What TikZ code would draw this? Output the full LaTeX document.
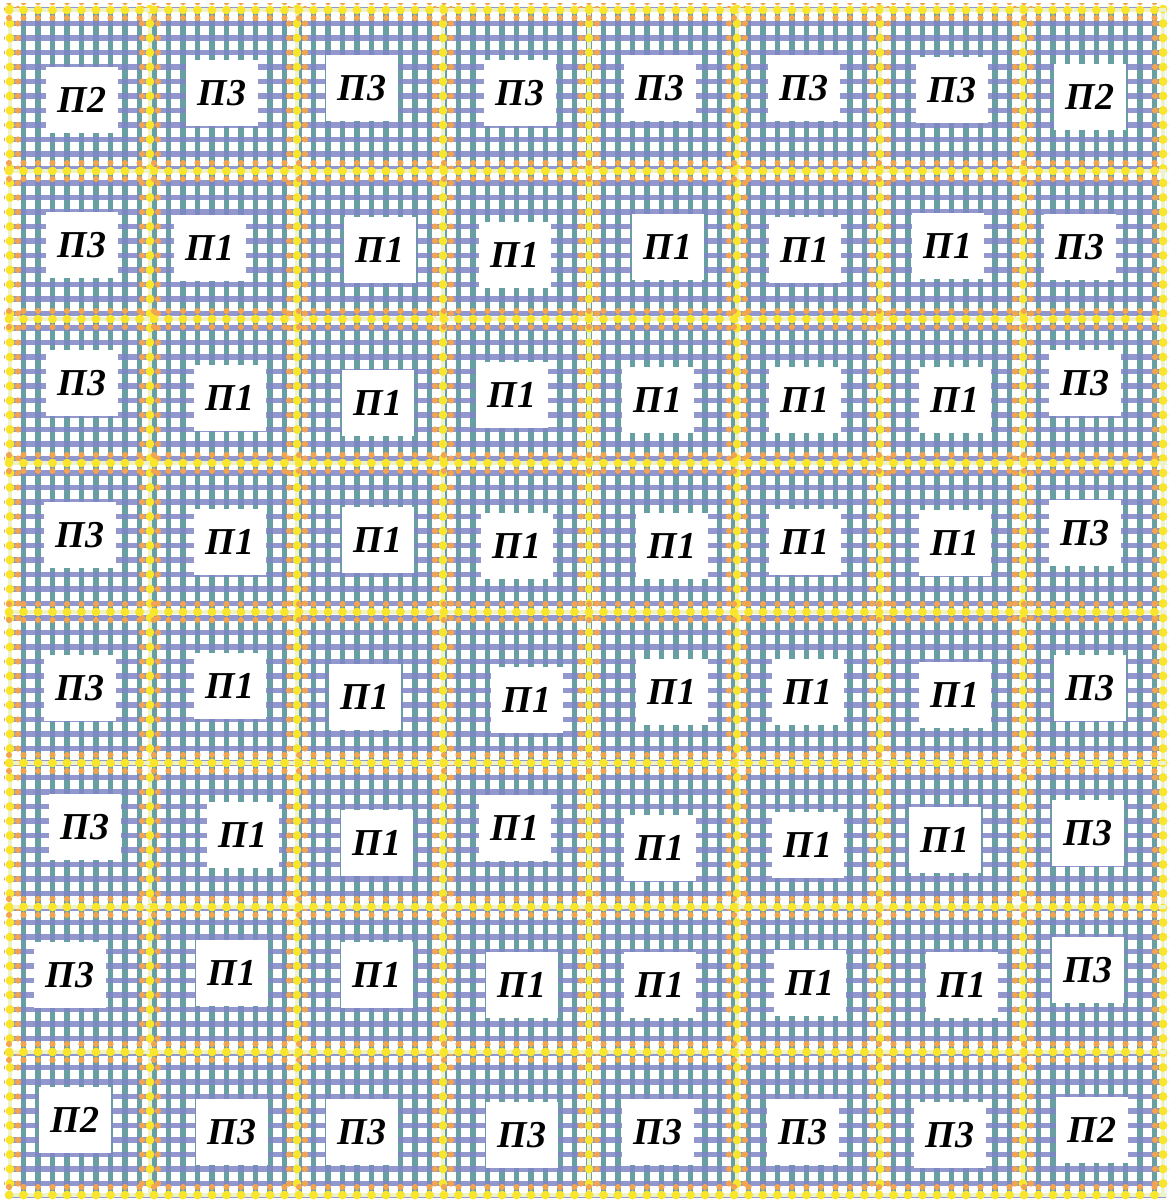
\documentclass[tikz,border=0pt]{standalone}
\usepackage{fontspec}
\setmainfont{Liberation Serif}
\definecolor{meshteal}{HTML}{679FA2}
\definecolor{meshblue}{HTML}{8086C6}
\definecolor{bandyel}{HTML}{F8E52C}
\definecolor{bandorg}{HTML}{F2A450}
\definecolor{bandpale}{HTML}{EEF2C8}
\tikzset{
  meshv/.style={draw=meshteal,line width=5.3pt},
  meshh/.style={draw=meshblue,line width=5.3pt,opacity=0.85},
  bandcore/.style={draw=bandpale,line width=4pt},
  lab/.style={fill=white,minimum width=72pt,minimum height=66pt,inner sep=0pt,
    font=\fontsize{38}{38}\selectfont\bfseries\itshape}
}
\begin{document}
\begin{tikzpicture}[x=1pt,y=-1pt]
\useasboundingbox (0,0) rectangle (1170,1201);
\fill[white] (0,0) rectangle (1170,1201);
% mesh
\begin{scope}
\clip (8,8) rectangle (1166,1197);
\foreach \i in {0,...,80} { \draw[meshv] ({9+\i*14.5},8) -- ({9+\i*14.5},1197); }
\foreach \i in {0,...,82} { \draw[meshh] (8,{9+\i*14.5}) -- (1166,{9+\i*14.5}); }
\end{scope}
% bands
\begin{scope}
\clip (4,4) rectangle (1168,1199);
\foreach \bx in {10,150,297,443,589,737,880,1023,1163} {
  \draw[bandcore] (\bx,8) -- (\bx,1197);
  \foreach \k in {0,...,81} {
    \fill[bandorg] ({\bx-8},{9+\k*14.5}) circle (3.1);
    \fill[bandorg] ({\bx+8},{9+\k*14.5}) circle (3.1);
    \fill[bandyel] (\bx,{9+\k*14.5}) circle (4.4);
  }
}
\foreach \by in {10,171,319,463,612,763,907,1052,1195} {
  \draw[bandcore] (8,\by) -- (1166,\by);
  \foreach \k in {0,...,79} {
    \fill[bandorg] ({9+\k*14.5},{\by-8}) circle (3.1);
    \fill[bandorg] ({9+\k*14.5},{\by+8}) circle (3.1);
    \fill[bandyel] ({9+\k*14.5},\by) circle (4.4);
  }
}
\end{scope}
% labels
\foreach \x/\y/\t [count=\c] in {82/100/П2,222/93/П3,362/88/П3,520/93/П3,660/88/П3,804/88/П3,952/90/П3,1090/97/П2}
  \node[lab] (a\c) at (\x,\y) {\t};
\foreach \x/\y/\t [count=\c] in {82/245/П3,210/248/П1,380/250/П1,515/255/П1,668/247/П1,805/250/П1,948/246/П1,1080/247/П3}
  \node[lab] (b\c) at (\x,\y) {\t};
\foreach \x/\y/\t [count=\c] in {82/383/П3,230/398/П1,378/403/П1,512/395/П1,658/400/П1,805/400/П1,955/400/П1,1085/383/П3}
  \node[lab] (c\c) at (\x,\y) {\t};
\foreach \x/\y/\t [count=\c] in {80/535/П3,230/542/П1,378/540/П1,517/546/П1,672/546/П1,805/542/П1,955/543/П1,1085/533/П3}
  \node[lab] (d\c) at (\x,\y) {\t};
\foreach \x/\y/\t [count=\c] in {80/688/П3,230/686/П1,365/697/П1,527/700/П1,672/692/П1,808/692/П1,955/695/П1,1090/688/П3}
  \node[lab] (e\c) at (\x,\y) {\t};
\foreach \x/\y/\t [count=\c] in {85/827/П3,243/835/П1,377/843/П1,515/828/П1,660/848/П1,808/845/П1,945/840/П1,1088/833/П3}
  \node[lab] (f\c) at (\x,\y) {\t};
\foreach \x/\y/\t [count=\c] in {70/975/П3,232/973/П1,377/975/П1,522/985/П1,660/985/П1,810/983/П1,962/985/П1,1088/970/П3}
  \node[lab] (g\c) at (\x,\y) {\t};
\foreach \x/\y/\t [count=\c] in {75/1120/П2,232/1132/П3,362/1132/П3,522/1135/П3,658/1132/П3,803/1132/П3,950/1135/П3,1092/1130/П2}
  \node[lab] (h\c) at (\x,\y) {\t};
\end{tikzpicture}
\end{document}
